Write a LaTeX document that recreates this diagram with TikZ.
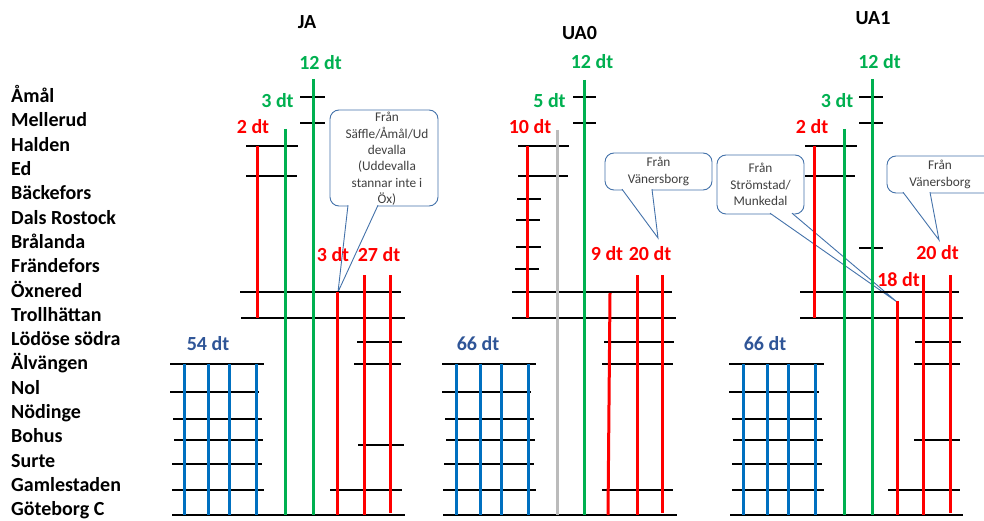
\documentclass[tikz,border=0pt]{standalone}
\usepackage{fontspec}
\setmainfont{Carlito}
\definecolor{rd}{RGB}{255,0,0}
\definecolor{gn}{RGB}{0,176,80}
\definecolor{bl}{RGB}{0,112,192}
\definecolor{gy}{RGB}{187,187,187}
\definecolor{lblue}{RGB}{47,85,151}
\definecolor{cborder}{RGB}{68,114,170}
\definecolor{ctext}{RGB}{64,64,64}
\newcommand\hln[3]{\draw[hline] (#1,#3) -- (#2,#3);}
\newcommand\vln[4]{\draw[#1] (#2,#3) -- (#2,#4);}
\tikzset{
  hline/.style={black, line width=2pt},
  redl/.style={rd, line width=3pt},
  greenl/.style={gn, line width=3pt},
  bluel/.style={bl, line width=3pt},
  grayl/.style={gy, line width=3pt},
  station/.style={anchor=base west, inner sep=0pt, font=\fontsize{20}{24}\selectfont\bfseries},
  lbl/.style={anchor=center, inner sep=0pt, font=\fontsize{20}{24}\selectfont\bfseries},
  callbox/.style={draw=cborder, line width=0.9pt, fill=white, rounded corners=9pt,
    align=center, text=ctext, inner sep=0pt, font=\fontsize{13.3}{16.3}\selectfont},
  wedgefill/.style={fill=white},
  wedgeline/.style={draw=cborder, line width=0.9pt, line join=miter}
}
\begin{document}
\begin{tikzpicture}[x=1pt,y=-1pt]
\useasboundingbox (0,0) rectangle (984,521);
\begin{scope}
\clip (0,0) rectangle (984,521);
% ---------- callouts ----------
\node[callbox, minimum width=108pt, minimum height=96pt] (cJA) at (384,158) {};
\node[text=ctext, align=center, inner sep=0pt, font=\fontsize{13.3}{16.4}\selectfont] (tJA) at (387,159)
  {Från\\Säffle/Åmål/Ud\\devalla\\(Uddevalla\\stannar inte i\\Öx)};
\coordinate (pJA1) at (348,205.2);
\coordinate (pJA2) at (378,205.2);
\coordinate (tipJA) at (338,292);
\fill[wedgefill] (pJA1) -- (tipJA) -- (pJA2) -- cycle;
\draw[wedgeline] (pJA1) -- (tipJA) -- (pJA2);

\node[callbox, minimum width=107pt, minimum height=37pt] (cU0) at (658.5,171.5) {Från\\Vänersborg};
\coordinate (pU01) at (622,189.2);
\coordinate (pU02) at (652,189.2);
\coordinate (tipU0) at (658,238);
\fill[wedgefill] (pU01) -- (tipU0) -- (pU02) -- cycle;
\draw[wedgeline] (pU01) -- (tipU0) -- (pU02);

\node[callbox, minimum width=87pt, minimum height=59pt] (cU1a) at (760.5,184.5) {Från\\Strömstad/\\Munkedal};
\coordinate (pU1a1) at (770,213.2);
\coordinate (pU1a2) at (792,213.2);
\coordinate (tipU1a) at (897,302);
\fill[wedgefill] (pU1a1) -- (tipU1a) -- (pU1a2) -- cycle;
\draw[wedgeline] (pU1a1) -- (tipU1a) -- (pU1a2);

\node[callbox, minimum width=106pt, minimum height=37pt] (cU1b) at (940,174.5) {Från\\Vänersborg};
\coordinate (pU1b1) at (903,192.2);
\coordinate (pU1b2) at (930,192.2);
\coordinate (tipU1b) at (939,240);
\fill[wedgefill] (pU1b1) -- (tipU1b) -- (pU1b2) -- cycle;
\draw[wedgeline] (pU1b1) -- (tipU1b) -- (pU1b2);
\end{scope}

% ---------- JA horizontals ----------
\hln{300}{325}{97}
\hln{300}{325}{123}
\hln{246}{298}{146}
\hln{246}{297}{176}
\hln{240}{401}{292}
\hln{241}{405}{318}
\hln{357}{402}{342}
\hln{170}{264}{364}
\hln{354}{401}{364}
\hln{170}{259}{392}
\hln{173}{262}{419}
\hln{174}{263}{440}
\hln{358}{404}{445}
\hln{172}{262}{464}
\hln{172}{264}{490}
\hln{330}{402}{490}
\hln{172}{405}{515}
% ---------- JA verticals ----------
\vln{bluel}{184}{364}{515}
\vln{bluel}{208}{364}{515}
\vln{bluel}{229}{364}{515}
\vln{bluel}{256}{364}{515}
\vln{greenl}{285}{129}{515}
\vln{greenl}{313}{79}{515}
\vln{redl}{257}{146}{318}
\vln{redl}{337}{292}{515}
\vln{redl}{364}{275}{515}
\vln{redl}{390}{275}{513}

% ---------- UA0 horizontals ----------
\hln{573}{596}{97}
\hln{573}{596}{123}
\hln{518}{569}{146}
\hln{518}{568}{176}
\hln{517}{541}{199}
\hln{516}{540}{220}
\hln{516}{541}{247}
\hln{515}{539}{269}
\hln{512}{672}{292}
\hln{512}{676}{318}
\hln{604}{674}{342}
\hln{442}{536}{364}
\hln{602}{673}{364}
\hln{442}{531}{392}
\hln{445}{534}{419}
\hln{446}{535}{440}
\hln{444}{534}{464}
\hln{443}{536}{490}
\hln{602}{673}{490}
\hln{443}{677}{515}
% ---------- UA0 verticals ----------
\vln{bluel}{456}{364}{515}
\vln{bluel}{480}{364}{515}
\vln{bluel}{501}{364}{515}
\vln{bluel}{528}{364}{515}
\vln{grayl}{557}{130}{515}
\vln{greenl}{584}{80}{515}
\vln{redl}{527}{146}{318}
\draw[redl] (610,293) -- (608,515);
\vln{redl}{637}{275}{515}
\vln{redl}{662}{275}{513}

% ---------- UA1 horizontals ----------
\hln{859}{883}{97}
\hln{859}{883}{123}
\hln{859}{883}{248}
\hln{805}{857}{146}
\hln{805}{855}{176}
\hln{800}{959}{292}
\hln{800}{963}{318}
\hln{915}{961}{342}
\hln{729}{824}{364}
\hln{914}{960}{364}
\hln{729}{819}{392}
\hln{732}{822}{419}
\hln{733}{823}{440}
\hln{914}{960}{440}
\hln{732}{822}{464}
\hln{732}{824}{490}
\hln{888}{960}{490}
\hln{730}{963}{515}
% ---------- UA1 verticals ----------
\vln{bluel}{743}{364}{515}
\vln{bluel}{767}{364}{515}
\vln{bluel}{788}{364}{515}
\vln{bluel}{815}{364}{515}
\vln{greenl}{844}{129}{515}
\vln{greenl}{872}{79}{515}
\vln{redl}{814}{146}{318}
\vln{redl}{897}{301}{515}
\vln{redl}{923}{275}{515}
\vln{redl}{950}{275}{513}

% ---------- station labels ----------
\foreach \name [count=\k from 0] in {Åmål,Mellerud,Halden,Ed,Bäckefors,Dals Rostock,Brålanda,Frändefors,Öxnered,Trollhättan,Lödöse södra,Älvängen,Nol,Nödinge,Bohus,Surte,Gamlestaden,Göteborg C}
  \node[station] (st\k) at (11,{102.6+24.3*\k}) {\name};

% ---------- titles and counts ----------
\node[lbl] (hJA) at (307,22) {JA};
\node[lbl] (hU0) at (579.5,33) {UA0};
\node[lbl] (hU1) at (873,18) {UA1};

\node[lbl, text=gn] (ja12) at (320.5,63) {12 dt};
\node[lbl, text=gn] (ja3g) at (277.5,101) {3 dt};
\node[lbl, text=rd] (ja2) at (253,127) {2 dt};
\node[lbl, text=rd] (ja3r) at (333,255) {3 dt};
\node[lbl, text=rd] (ja27) at (379,255) {27 dt};
\node[lbl, text=lblue] (ja54) at (208,344) {54 dt};

\node[lbl, text=gn] (u012) at (592,62) {12 dt};
\node[lbl, text=gn] (u05) at (549.5,101) {5 dt};
\node[lbl, text=rd] (u010) at (530,127) {10 dt};
\node[lbl, text=rd] (u09) at (607,254) {9 dt};
\node[lbl, text=rd] (u020) at (650,254) {20 dt};
\node[lbl, text=lblue] (u066) at (478,344) {66 dt};

\node[lbl, text=gn] (u112) at (879.5,62) {12 dt};
\node[lbl, text=gn] (u13) at (837,101) {3 dt};
\node[lbl, text=rd] (u12) at (812,127) {2 dt};
\node[lbl, text=rd] (u118) at (898.5,280) {18 dt};
\node[lbl, text=rd] (u120) at (937.5,253) {20 dt};
\node[lbl, text=lblue] (u166) at (765,344) {66 dt};
\end{tikzpicture}
\end{document}
